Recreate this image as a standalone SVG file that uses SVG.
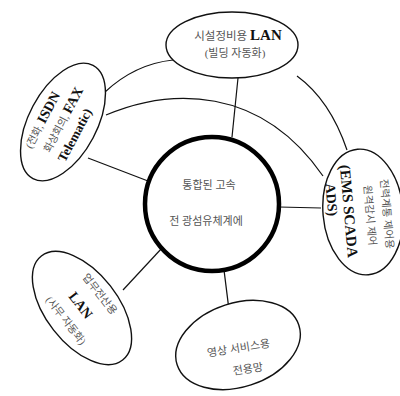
<svg xmlns="http://www.w3.org/2000/svg" width="400" height="396" viewBox="0 0 400 396">
<style>
.ell{fill:#fff;stroke:#111;stroke-width:1.4}
.hub{fill:#fff;stroke:#000;stroke-width:4.5}
.ln{fill:none;stroke:#111;stroke-width:1.2}
.ko{font-family:"Liberation Serif","Noto Sans CJK KR",serif;font-size:10.5px;fill:#555;text-anchor:middle}
.en{font-family:"Liberation Serif","Noto Sans CJK KR",serif;font-size:14px;font-weight:bold;fill:#111;text-anchor:middle}
</style>
<rect width="400" height="396" fill="#fff"/>
<g id="connectors">
<path class="ln" d="M173,60 Q135,64 105,92"/>
<path class="ln" d="M106,115 C170,88 260,85 323,176"/>
<path class="ln" d="M297,76 Q330,100 347,150"/>
<path class="ln" d="M238,78 L232,137"/>
<path class="ln" d="M88,158 L148,181"/>
<path class="ln" d="M279,207 L321,208"/>
<path class="ln" d="M224,270 L230,318"/>
<path class="ln" d="M123,290 L162,248"/>
</g>
<g id="hub">
<circle class="hub" cx="212" cy="204" r="67"/>
<text class="ko" x="209" y="189" style="font-size:11px">통합된 고속</text>
<text class="ko" x="206" y="225" style="font-size:11px">전 광섬유체계에</text>
</g>
<g id="top">
<ellipse class="ell" cx="232" cy="45" rx="66" ry="33"/>
<text x="238" y="40"><tspan class="ko" style="font-size:11.5px">시설정비용 </tspan><tspan class="en" style="font-size:15px">LAN</tspan></text>
<text class="ko" x="235" y="57" style="font-size:11px">(빌딩 자동화)</text>
</g>
<g id="leftTop" transform="translate(63,122) rotate(-62)">
<ellipse class="ell" cx="0" cy="0" rx="64" ry="34"/>
<text x="-8" y="-15"><tspan class="ko">(전화, </tspan><tspan class="en">ISDN</tspan></text>
<text x="2" y="3"><tspan class="ko">화상회의, </tspan><tspan class="en">FAX</tspan></text>
<text class="en" x="-6" y="21" style="font-size:13px">Telematic)</text>
</g>
<g id="right" transform="translate(363,212) rotate(85)">
<ellipse class="ell" cx="0" cy="0" rx="63" ry="40"/>
<text class="ko" x="4" y="-20">전력계통 제어용</text>
<text class="ko" x="4" y="-3">원격감시 제어</text>
<text class="en" x="-2" y="19" style="font-size:15px">(EMS SCADA</text>
<text class="en" x="-15" y="35">ADS)</text>
</g>
<g id="bottom" transform="translate(238,345) rotate(-18)">
<ellipse class="ell" cx="0" cy="0" rx="64" ry="42"/>
</g>
<g id="bottomText" transform="translate(238,345) rotate(-9)">
<text class="ko" x="0" y="7" style="font-size:11px">영상 서비스용</text>
<text class="ko" x="6" y="29" style="font-size:11px">전용망</text>
</g>
<g id="leftBottom" transform="translate(82,308) rotate(52)">
<ellipse class="ell" cx="0" cy="0" rx="66" ry="36"/>
<text class="ko" x="0" y="-19">업무전산용</text>
<text class="en" x="-3" y="4">LAN</text>
<text class="ko" x="0" y="24">(사무 자동화)</text>
</g>
</svg>
